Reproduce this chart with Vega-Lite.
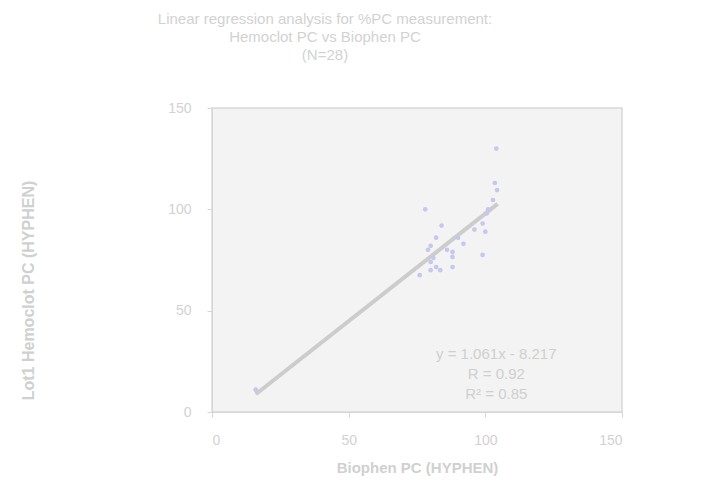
{
  "$schema": "https://vega.github.io/schema/vega-lite/v6.json",
  "width": 410,
  "height": 304,
  "autosize": {"type": "none"},
  "padding": {"left": 212, "top": 108, "right": 105, "bottom": 73},
  "background": "#ffffff",
  "title": {
    "text": ["Linear regression analysis for %PC measurement:", "Hemoclot PC vs Biophen PC", "(N=28)"],
    "anchor": "middle",
    "dx": -92,
    "offset": 38,
    "fontSize": 15,
    "lineHeight": 18,
    "font": "Liberation Sans",
    "fontWeight": "normal",
    "color": "#d2d2d2"
  },
  "config": {
    "view": {"fill": "#f3f3f3", "stroke": "#d9d9d9", "strokeWidth": 1.5},
    "axis": {
      "labelFont": "Liberation Sans",
      "labelFontSize": 14,
      "labelColor": "#d2d2d2",
      "titleFont": "Liberation Sans",
      "titleFontSize": 15,
      "titleFontWeight": "bold",
      "titleColor": "#d0d0d0",
      "domainColor": "#d6d6d6",
      "tickColor": "#d6d6d6",
      "tickSize": 5,
      "grid": false
    }
  },
  "datasets": {
    "points": [
      {"biophen": 104, "hemoclot": 130},
      {"biophen": 103.5, "hemoclot": 113},
      {"biophen": 104.3, "hemoclot": 109.5},
      {"biophen": 102.8, "hemoclot": 104.6},
      {"biophen": 78, "hemoclot": 100},
      {"biophen": 84, "hemoclot": 92},
      {"biophen": 82, "hemoclot": 86},
      {"biophen": 80, "hemoclot": 82},
      {"biophen": 79, "hemoclot": 80},
      {"biophen": 90, "hemoclot": 86},
      {"biophen": 88, "hemoclot": 79},
      {"biophen": 88, "hemoclot": 76.5},
      {"biophen": 81, "hemoclot": 76},
      {"biophen": 82, "hemoclot": 71.5},
      {"biophen": 83.5, "hemoclot": 70},
      {"biophen": 80, "hemoclot": 70},
      {"biophen": 76, "hemoclot": 67.5},
      {"biophen": 88, "hemoclot": 71.5},
      {"biophen": 99, "hemoclot": 93},
      {"biophen": 100, "hemoclot": 89},
      {"biophen": 99, "hemoclot": 77.5},
      {"biophen": 100.5, "hemoclot": 98},
      {"biophen": 16, "hemoclot": 11},
      {"biophen": 86, "hemoclot": 80},
      {"biophen": 92, "hemoclot": 83},
      {"biophen": 96, "hemoclot": 90},
      {"biophen": 80, "hemoclot": 74},
      {"biophen": 101, "hemoclot": 100}
    ],
    "fit": [
      {"biophen": 16, "hemoclot": 8.76},
      {"biophen": 104.5, "hemoclot": 102.66}
    ],
    "stats": [
      {"label": ["y = 1.061x - 8.217", "R = 0.92", "R² = 0.85"]}
    ]
  },
  "layer": [
    {
      "data": {"name": "fit"},
      "mark": {"type": "line", "color": "#cccccc", "strokeWidth": 4},
      "encoding": {
        "x": {
          "field": "biophen", "type": "quantitative",
          "scale": {"domain": [0, 150], "nice": false, "zero": true},
          "axis": {"values": [0, 50, 100, 150], "title": "Biophen PC (HYPHEN)", "labelPadding": 16, "titleY": 48}
        },
        "y": {
          "field": "hemoclot", "type": "quantitative",
          "scale": {"domain": [0, 150], "nice": false},
          "axis": {"values": [0, 50, 100, 150], "title": "Lot1 Hemoclot PC (HYPHEN)", "labelPadding": 16, "titleX": -176, "titleY": 182, "titleFontSize": 16}
        }
      }
    },
    {
      "data": {"name": "points"},
      "mark": {"type": "circle", "color": "#c6c6ef", "size": 22, "opacity": 1},
      "encoding": {
        "x": {"field": "biophen", "type": "quantitative"},
        "y": {"field": "hemoclot", "type": "quantitative"}
      }
    },
    {
      "data": {"name": "stats"},
      "mark": {"type": "text", "font": "Liberation Sans", "fontSize": 15, "lineHeight": 20, "color": "#cfcfcf", "align": "center", "baseline": "top"},
      "encoding": {
        "text": {"field": "label"},
        "x": {"datum": 104},
        "y": {"datum": 32}
      }
    }
  ]
}
